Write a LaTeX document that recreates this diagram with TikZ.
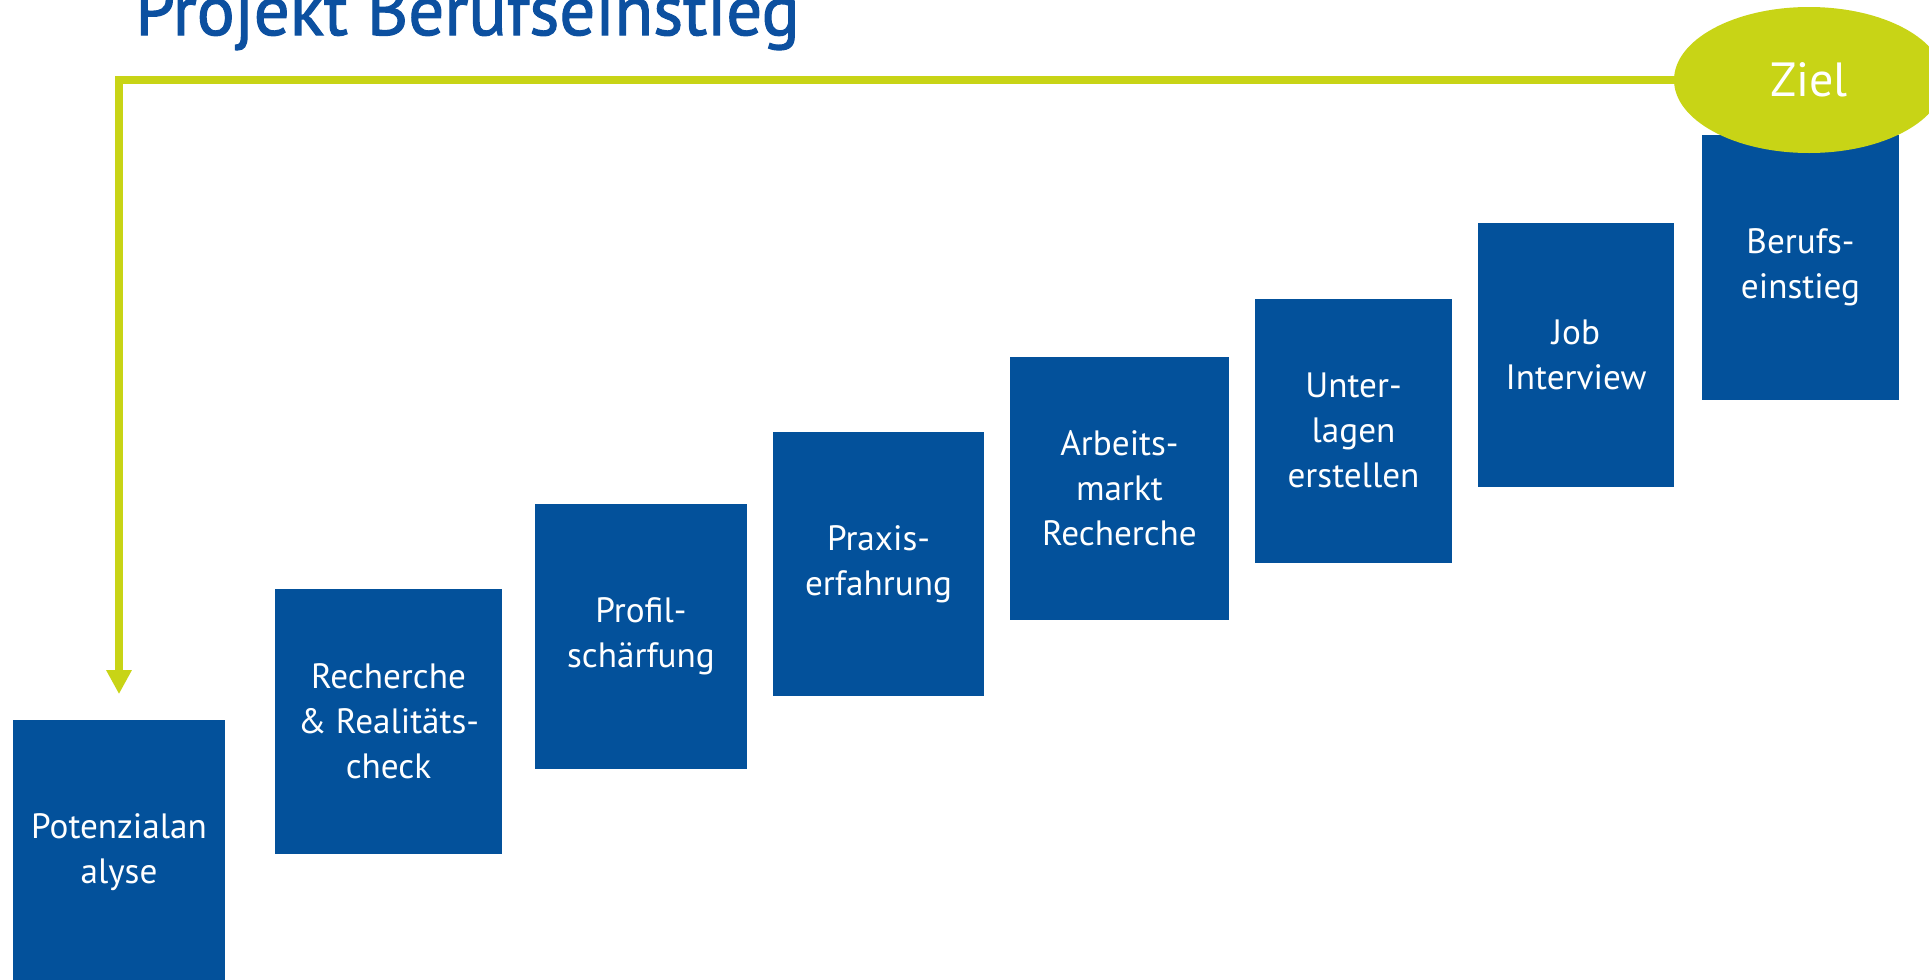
\documentclass[tikz,border=0pt]{standalone}
\usepackage{fontspec}
\setmainfont{PT Sans}
\newfontfamily\titlefont[FakeBold=1.6]{PT Sans}
\usetikzlibrary{arrows.meta,shapes.geometric}
\definecolor{boxblue}{RGB}{3,81,155}
\definecolor{titleblue}{RGB}{12,80,160}
\definecolor{limegreen}{RGB}{200,212,22}
\tikzset{
  stepbox/.style={fill=boxblue, draw=none, inner sep=0pt, text=white, align=center,
    font=\fontsize{17.6}{22.5}\selectfont},
  goal/.style={ellipse, fill=limegreen, draw=none, inner sep=0pt, minimum width=135pt, minimum height=73pt,
    text=white, font=\fontsize{24}{28}\selectfont},
  loopline/.style={draw=limegreen, line width=4pt, -{Triangle[width=12pt,length=12pt]}}
}
\begin{document}
\begin{tikzpicture}[x=0.5pt,y=-0.5pt]
\clip (0,0) rectangle (1929,980);
\fill[white] (0,0) rectangle (1929,980);
\node[anchor=base west, inner sep=0pt, text=titleblue, font=\titlefont\fontsize{35.5}{42}\selectfont] (title) at (135,35) {Projekt Berufseinstieg};
\node[stepbox, minimum width=106pt, minimum height=132.5pt] (b1) at (119,852) {Potenzialan\\alyse};
\node[stepbox, minimum width=113.5pt, minimum height=132.5pt] (b2) at (388.5,721.5) {Recherche\\\& Realitäts-\\check};
\node[stepbox, minimum width=106pt, minimum height=132.5pt] (b3) at (641,636.5) {Profil-\\schärfung};
\node[stepbox, minimum width=105.5pt, minimum height=132pt] (b4) at (878.5,564) {Praxis-\\erfahrung};
\node[stepbox, minimum width=109.5pt, minimum height=131.5pt] (b5) at (1119.5,488.5) {Arbeits-\\markt\\Recherche};
\node[stepbox, minimum width=98.5pt, minimum height=132pt] (b6) at (1353.5,430.5) {Unter-\\lagen\\erstellen};
\node[stepbox, minimum width=98pt, minimum height=132pt] (b7) at (1576,355) {Job\\Interview};
\node[stepbox, minimum width=98.5pt, minimum height=132.5pt] (b8) at (1800.5,267.5) {Berufs-\\einstieg};
\node[goal] (ziel) at (1809,80) {Ziel};
\draw[loopline, shorten >=12.5pt] (ziel.west) -| (b1.north);
\end{tikzpicture}
\end{document}
